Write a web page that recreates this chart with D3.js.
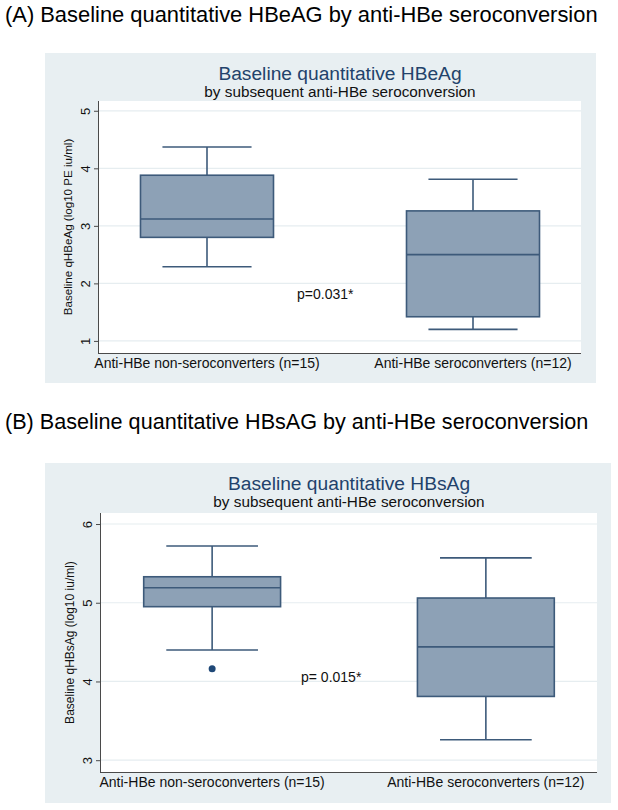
<!DOCTYPE html>
<html>
<head>
<meta charset="utf-8">
<script src="https://cdn.jsdelivr.net/npm/d3@7"></script>
<style>
  html, body { margin: 0; padding: 0; background: #ffffff; }
  svg { display: block; font-family: "Liberation Sans", Arial, Helvetica, sans-serif; }
</style>
</head>
<body>
<svg id="chart" width="618" height="810"></svg>
<script>
// ---------- DATA ----------
const categories = ["Anti-HBe non-seroconverters (n=15)", "Anti-HBe seroconverters (n=12)"];

// Panel A: baseline qHBeAg (log10 PE iu/ml)
const hbeagLowerWhisker = [2.29, 1.20];
const hbeagQ1           = [2.80, 1.42];
const hbeagMedian       = [3.12, 2.50];
const hbeagQ3           = [3.88, 3.26];
const hbeagUpperWhisker = [4.37, 3.81];
const hbeagOutliers     = [[], []];
const hbeagTicks        = [1, 2, 3, 4, 5];

// Panel B: baseline qHBsAg (log10 iu/ml)
const hbsagLowerWhisker = [4.40, 3.26];
const hbsagQ1           = [4.95, 3.81];
const hbsagMedian       = [5.19, 4.44];
const hbsagQ3           = [5.33, 5.06];
const hbsagUpperWhisker = [5.72, 5.57];
const hbsagOutliers     = [[4.16], []];
const hbsagTicks        = [3, 4, 5, 6];

const headerA = "(A) Baseline quantitative HBeAG by anti-HBe seroconversion";
const headerB = "(B) Baseline quantitative HBsAG by anti-HBe seroconversion";

// ---------- STYLE ----------
const C = {
  panel: "#E8EFF2",
  plot: "#FFFFFF",
  grid: "#E6EDF0",
  axis: "#4A4A4A",
  boxFill: "#8DA1B6",
  boxStroke: "#3D5A7A",
  outlier: "#1F4877",
  title: "#22426B",
  text: "#111111"
};

const svg = d3.select("#chart");

function drawPanel(cfg) {
  const g = svg.append("g");
  g.append("rect").attr("x", cfg.panel.x).attr("y", cfg.panel.y)
    .attr("width", cfg.panel.w).attr("height", cfg.panel.h).attr("fill", C.panel);
  const p = cfg.plot;
  g.append("rect").attr("x", p.left).attr("y", p.top)
    .attr("width", p.right - p.left).attr("height", p.bottom - p.top).attr("fill", C.plot);

  const y = d3.scaleLinear().domain(cfg.yDomain).range([p.bottom, p.top]);
  const x = d3.scaleBand().domain(categories).range([p.left, p.right])
    .paddingInner(0.5).paddingOuter(0.156);

  // grid
  g.append("g").selectAll("line").data(cfg.ticks).join("line")
    .attr("x1", p.left).attr("x2", p.right)
    .attr("y1", d => y(d)).attr("y2", d => y(d))
    .attr("stroke", C.grid).attr("stroke-width", 1.2);

  // y axis
  const yAxis = d3.axisLeft(y).tickValues(cfg.ticks).tickSize(5).tickPadding(0).tickFormat(d3.format("d"));
  const ya = g.append("g").attr("transform", `translate(${p.left},0)`).call(yAxis);
  ya.select(".domain").attr("stroke", C.axis).attr("d", `M-0.5,${p.top}V${p.bottom}`);
  ya.selectAll(".tick line").attr("stroke", C.axis);
  ya.selectAll(".tick text")
    .attr("font-family", "'Liberation Sans', Arial, sans-serif")
    .attr("font-size", 13).attr("fill", C.text)
    .attr("text-anchor", "middle")
    .attr("x", null).attr("dy", null)
    .attr("transform", "translate(-9.5,0) rotate(-90)");

  // x axis (line only)
  const xAxis = d3.axisBottom(x).tickSize(0).tickPadding(0).tickFormat(() => "");
  const xa = g.append("g").attr("transform", `translate(0,${p.bottom})`).call(xAxis);
  xa.select(".domain").attr("stroke", C.axis).attr("d", `M${p.left - 1},0.5H${p.right}`);

  // category labels
  g.append("g").selectAll("text").data(categories).join("text")
    .attr("x", d => x(d) + x.bandwidth() / 2)
    .attr("y", p.bottom + 15)
    .attr("text-anchor", "middle").attr("font-size", 14).attr("fill", C.text)
    .text(d => d);

  // y title
  g.append("text")
    .attr("transform", `translate(${p.left - 27},${(p.top + p.bottom) / 2}) rotate(-90)`)
    .attr("text-anchor", "middle").attr("font-size", cfg.yTitleSize).attr("fill", C.text)
    .text(cfg.yTitle);

  // titles
  const cx = (p.left + p.right) / 2;
  g.append("text").attr("x", cx).attr("y", cfg.panel.y + 27)
    .attr("text-anchor", "middle").attr("font-size", 19.2).attr("fill", C.title)
    .text(cfg.title);
  g.append("text").attr("x", cx).attr("y", cfg.panel.y + 44)
    .attr("text-anchor", "middle").attr("font-size", 15.3).attr("fill", C.text)
    .text(cfg.subtitle);

  // boxes
  const bw = x.bandwidth();
  const capHalf = bw * 0.335;
  const sw = 1.6;
  categories.forEach((cat, i) => {
    const cxb = x(cat) + bw / 2;
    const bg = g.append("g");
    bg.append("line").attr("x1", cxb).attr("x2", cxb)
      .attr("y1", y(cfg.q3[i])).attr("y2", y(cfg.upper[i]))
      .attr("stroke", C.boxStroke).attr("stroke-width", sw);
    bg.append("line").attr("x1", cxb).attr("x2", cxb)
      .attr("y1", y(cfg.q1[i])).attr("y2", y(cfg.lower[i]))
      .attr("stroke", C.boxStroke).attr("stroke-width", sw);
    bg.append("line").attr("x1", cxb - capHalf).attr("x2", cxb + capHalf)
      .attr("y1", y(cfg.upper[i])).attr("y2", y(cfg.upper[i]))
      .attr("stroke", C.boxStroke).attr("stroke-width", sw);
    bg.append("line").attr("x1", cxb - capHalf).attr("x2", cxb + capHalf)
      .attr("y1", y(cfg.lower[i])).attr("y2", y(cfg.lower[i]))
      .attr("stroke", C.boxStroke).attr("stroke-width", sw);
    bg.append("rect").attr("x", x(cat)).attr("width", bw)
      .attr("y", y(cfg.q3[i])).attr("height", y(cfg.q1[i]) - y(cfg.q3[i]))
      .attr("fill", C.boxFill).attr("stroke", C.boxStroke).attr("stroke-width", sw);
    bg.append("line").attr("x1", x(cat)).attr("x2", x(cat) + bw)
      .attr("y1", y(cfg.median[i])).attr("y2", y(cfg.median[i]))
      .attr("stroke", C.boxStroke).attr("stroke-width", sw);
    bg.selectAll("circle").data(cfg.outliers[i]).join("circle")
      .attr("cx", cxb).attr("cy", d => y(d)).attr("r", 3.5).attr("fill", C.outlier);
  });

  // p-value annotation
  g.append("text").attr("x", cfg.pText.x).attr("y", cfg.pText.y)
    .attr("font-size", 14).attr("fill", C.text).text(cfg.pText.text);
}

// headers
svg.append("text").attr("x", 5).attr("y", 22).attr("font-size", 21.9).attr("fill", "#000").text(headerA);
svg.append("text").attr("x", 5).attr("y", 429).attr("font-size", 21.6).attr("fill", "#000").text(headerB);

drawPanel({
  panel: { x: 45, y: 53, w: 551, h: 330 },
  plot: { left: 99, right: 581, top: 101, bottom: 353 },
  yDomain: [0.79, 5.17],
  ticks: hbeagTicks,
  lower: hbeagLowerWhisker, q1: hbeagQ1, median: hbeagMedian, q3: hbeagQ3, upper: hbeagUpperWhisker,
  outliers: hbeagOutliers,
  title: "Baseline quantitative HBeAg",
  subtitle: "by subsequent anti-HBe seroconversion",
  yTitle: "Baseline qHBeAg (log10 PE iu/ml)",
  yTitleSize: 11.6,
  pText: { x: 297, y: 299, text: "p=0.031*" }
});

drawPanel({
  panel: { x: 45, y: 463, w: 566, h: 340 },
  plot: { left: 101, right: 597, top: 513, bottom: 772 },
  yDomain: [2.85, 6.14],
  ticks: hbsagTicks,
  lower: hbsagLowerWhisker, q1: hbsagQ1, median: hbsagMedian, q3: hbsagQ3, upper: hbsagUpperWhisker,
  outliers: hbsagOutliers,
  title: "Baseline quantitative HBsAg",
  subtitle: "by subsequent anti-HBe seroconversion",
  yTitle: "Baseline qHBsAg (log10 iu/ml)",
  yTitleSize: 12,
  pText: { x: 301, y: 682, text: "p= 0.015*" }
});
</script>
</body>
</html>
